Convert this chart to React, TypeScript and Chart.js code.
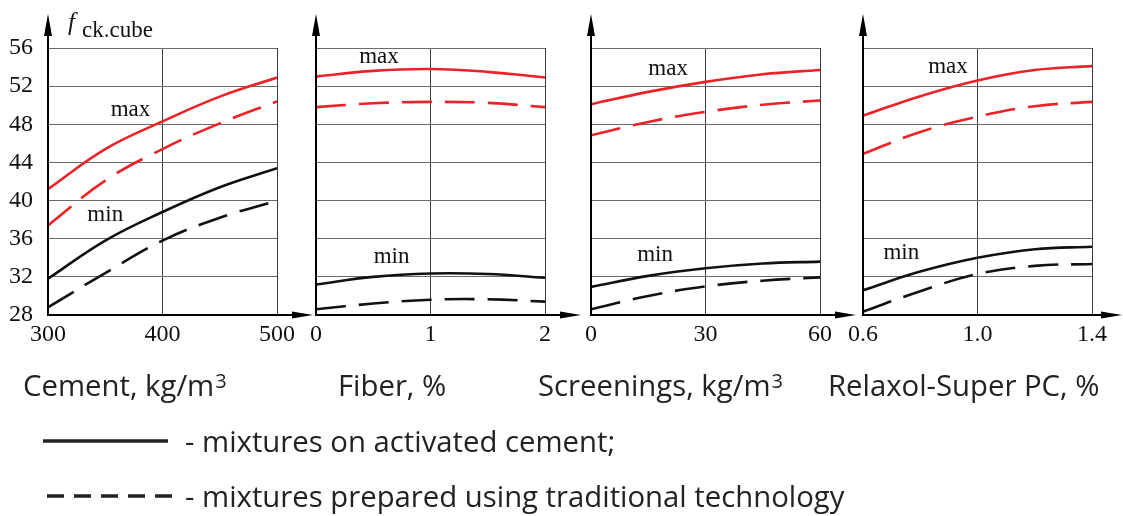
import React, { useEffect, useRef } from 'react';
import { Chart, registerables } from 'chart.js';

Chart.register(...registerables);

// ---------- data ----------
const yTicks = [28, 32, 36, 40, 44, 48, 52, 56];

// Panel 1: Cement, kg/m3
const cementX = [300, 350, 400, 450, 500];
const cementTicks = [300, 400, 500];
const cementMaxActivated = [41.2, 45.4, 48.3, 50.9, 52.9];
const cementMaxTraditional = [37.4, 42.1, 45.4, 48.1, 50.4];
const cementMinActivated = [31.8, 35.8, 38.8, 41.4, 43.4];
const cementMinTraditional = [28.8, 32.4, 35.8, 38.2, 40.0];

// Panel 2: Fiber, %
const fiberX = [0, 0.5, 1, 1.5, 2];
const fiberTicks = [0, 1, 2];
const fiberMaxActivated = [53.0, 53.6, 53.8, 53.5, 52.9];
const fiberMaxTraditional = [49.8, 50.2, 50.35, 50.25, 49.8];
const fiberMinActivated = [31.2, 32.0, 32.35, 32.3, 31.9];
const fiberMinTraditional = [28.6, 29.2, 29.6, 29.65, 29.4];

// Panel 3: Screenings, kg/m3
const screeningsX = [0, 15, 30, 45, 60];
const screeningsTicks = [0, 30, 60];
const screeningsMaxActivated = [50.1, 51.4, 52.45, 53.25, 53.7];
const screeningsMaxTraditional = [46.85, 48.25, 49.3, 50.05, 50.5];
const screeningsMinActivated = [30.95, 32.1, 32.9, 33.4, 33.6];
const screeningsMinTraditional = [28.6, 30.0, 31.0, 31.6, 31.95];

// Panel 4: Relaxol-Super PC, %
const relaxolX = [0.6, 0.8, 1.0, 1.2, 1.4];
const relaxolTicks = [0.6, 1.0, 1.4];
const relaxolMaxActivated = [48.9, 50.95, 52.6, 53.7, 54.1];
const relaxolMaxTraditional = [44.9, 47.2, 48.8, 49.9, 50.35];
const relaxolMinActivated = [30.6, 32.55, 34.0, 34.9, 35.15];
const relaxolMinTraditional = [28.35, 30.5, 32.3, 33.15, 33.35];

const axisTitles = ['Cement, kg/m', 'Fiber, %', 'Screenings, kg/m', 'Relaxol-Super PC, %'];
const legendLabels = ['- mixtures on activated cement;', '- mixtures prepared using traditional technology'];

// ---------- layout / style ----------
const W = 1123;
const H = 516;
const TOP = 48;
const BOTTOM = 315;
const Y_AXIS_W = 48;
const X_AXIS_H = 46;
const RED = '#ec2227';
const BLACK = '#111111';
const SERIF = '"Liberation Serif", "Times New Roman", serif';
const SANS = '"Open Sans", "Noto Sans", sans-serif';

type Note = { text: string; x: number; y: number };
type Panel = {
  xs: number[];
  series: number[][];
  ticks: number[];
  decimals: number;
  left: number;
  right: number;
  showY: boolean;
  notes: Note[];
};

const panels: Panel[] = [
  {
    xs: cementX,
    series: [cementMaxActivated, cementMaxTraditional, cementMinActivated, cementMinTraditional],
    ticks: cementTicks, decimals: 0, left: 48, right: 277, showY: true,
    notes: [{ text: 'max', x: 372, y: 48.9 }, { text: 'min', x: 350, y: 37.9 }],
  },
  {
    xs: fiberX,
    series: [fiberMaxActivated, fiberMaxTraditional, fiberMinActivated, fiberMinTraditional],
    ticks: fiberTicks, decimals: 0, left: 316, right: 545, showY: false,
    notes: [{ text: 'max', x: 0.55, y: 54.4 }, { text: 'min', x: 0.66, y: 33.5 }],
  },
  {
    xs: screeningsX,
    series: [screeningsMaxActivated, screeningsMaxTraditional, screeningsMinActivated, screeningsMinTraditional],
    ticks: screeningsTicks, decimals: 0, left: 591, right: 820, showY: false,
    notes: [{ text: 'max', x: 20.2, y: 53.15 }, { text: 'min', x: 16.8, y: 33.7 }],
  },
  {
    xs: relaxolX,
    series: [relaxolMaxActivated, relaxolMaxTraditional, relaxolMinActivated, relaxolMinTraditional],
    ticks: relaxolTicks, decimals: 1, left: 863, right: 1092, showY: false,
    notes: [{ text: 'max', x: 0.897, y: 53.4 }, { text: 'min', x: 0.734, y: 33.9 }],
  },
];

const seriesStyles = [
  { color: RED, dash: [] as number[] },
  { color: RED, dash: [30, 13] },
  { color: BLACK, dash: [] as number[] },
  { color: BLACK, dash: [30, 13] },
];

function PanelChart({ panel, index }: { panel: Panel; index: number }) {
  const ref = useRef<HTMLCanvasElement | null>(null);

  useEffect(() => {
    if (!ref.current) return;
    const p = panel;
    const overlay = {
      id: 'overlay' + index,
      afterDraw(chart: any) {
        const { ctx, chartArea: a, scales } = chart;
        ctx.save();
        ctx.strokeStyle = '#000';
        ctx.fillStyle = '#000';
        ctx.lineWidth = 2;
        ctx.setLineDash([]);
        // y axis with arrow
        ctx.beginPath();
        ctx.moveTo(a.left, a.bottom + 1);
        ctx.lineTo(a.left, 30);
        ctx.stroke();
        ctx.beginPath();
        ctx.moveTo(a.left, 14);
        ctx.lineTo(a.left - 4, 36);
        ctx.lineTo(a.left + 4, 36);
        ctx.closePath();
        ctx.fill();
        // x axis with arrow
        const tip = Math.min(a.right + 36, W - 1);
        ctx.beginPath();
        ctx.moveTo(a.left - 1, a.bottom);
        ctx.lineTo(tip - 12, a.bottom);
        ctx.stroke();
        ctx.beginPath();
        ctx.moveTo(tip, a.bottom);
        ctx.lineTo(tip - 21, a.bottom - 3.5);
        ctx.lineTo(tip - 21, a.bottom + 3.5);
        ctx.closePath();
        ctx.fill();
        // max / min notes
        ctx.font = `23px ${SERIF}`;
        ctx.textAlign = 'center';
        ctx.textBaseline = 'alphabetic';
        ctx.fillStyle = '#111';
        for (const n of p.notes) {
          ctx.fillText(n.text, scales.x.getPixelForValue(n.x), scales.y.getPixelForValue(n.y));
        }
        if (index === 0) {
          // y axis title f_ck.cube
          ctx.textAlign = 'left';
          ctx.font = `italic 25px ${SERIF}`;
          ctx.fillText('f', a.left + 20, 30);
          ctx.font = `23px ${SERIF}`;
          ctx.fillText('ck.cube', a.left + 34, 37);
          // legend samples
          ctx.strokeStyle = '#222';
          ctx.lineWidth = 3.5;
          ctx.beginPath();
          ctx.moveTo(43, 441);
          ctx.lineTo(168, 441);
          ctx.stroke();
          ctx.setLineDash([17, 10]);
          ctx.beginPath();
          ctx.moveTo(47, 496);
          ctx.lineTo(174, 496);
          ctx.stroke();
        }
        ctx.restore();
      },
    };

    const chart = new Chart(ref.current, {
      type: 'line',
      data: {
        datasets: p.series.map((vals, i) => ({
          data: p.xs.map((x, j) => ({ x, y: vals[j] })),
          borderColor: seriesStyles[i].color,
          borderDash: seriesStyles[i].dash,
          borderWidth: 2.6,
          pointRadius: 0,
          tension: 0.4,
          fill: false,
        })),
      },
      options: {
        animation: false,
        responsive: false,
        events: [],
        layout: {
          padding: {
            left: p.left - Y_AXIS_W,
            right: W - p.right,
            top: TOP,
            bottom: H - BOTTOM - X_AXIS_H,
          },
        },
        plugins: { legend: { display: false }, tooltip: { enabled: false } },
        scales: {
          x: {
            type: 'linear',
            min: p.ticks[0],
            max: p.ticks[p.ticks.length - 1],
            afterFit: (s: any) => { s.height = X_AXIS_H; s.paddingLeft = 0; s.paddingRight = 0; },
            afterBuildTicks: (s: any) => { s.ticks = p.ticks.map((v) => ({ value: v })); },
            grid: { color: '#3a3a3a', lineWidth: 1, drawTicks: false },
            border: { display: false },
            ticks: {
              padding: 5,
              autoSkip: false,
              maxRotation: 0,
              color: '#111',
              font: { family: SERIF, size: 24 },
              callback: (v: any) => Number(v).toFixed(p.decimals),
            },
          },
          y: {
            type: 'linear',
            min: yTicks[0],
            max: yTicks[yTicks.length - 1],
            afterFit: (s: any) => { s.width = Y_AXIS_W; s.paddingTop = 0; s.paddingBottom = 0; },
            afterBuildTicks: (s: any) => { s.ticks = yTicks.map((v) => ({ value: v })); },
            grid: { color: '#6a6a6a', lineWidth: 1, drawTicks: false },
            border: { display: false },
            ticks: {
              display: p.showY,
              autoSkip: false,
              padding: 15,
              color: '#111',
              font: { family: SERIF, size: 24 },
            },
          },
        },
      },
      plugins: [overlay],
    } as any);
    return () => chart.destroy();
  }, [panel, index]);

  return (
    <canvas
      ref={ref}
      width={W}
      height={H}
      style={{ position: 'absolute', left: 0, top: 0, width: W, height: H }}
    />
  );
}

const titleLefts = [23, 338, 538, 828];

export default function App() {
  const textStyle: React.CSSProperties = {
    position: 'absolute',
    fontFamily: SANS,
    fontSize: 29.3,
    lineHeight: '29px',
    color: '#222',
    whiteSpace: 'nowrap',
  };
  return (
    <div style={{ position: 'absolute', left: 0, top: 0, width: W, height: H, background: '#fff', overflow: 'hidden' }}>
      {panels.map((p, i) => (
        <PanelChart key={i} panel={p} index={i} />
      ))}
      {axisTitles.map((t, i) => (
        <div key={t} style={{ ...textStyle, left: titleLefts[i], top: 371 }}>
          {t}
          {i === 0 || i === 2 ? (
            <span style={{ fontSize: 20, position: 'relative', top: -8, marginLeft: 1 }}>3</span>
          ) : null}
        </div>
      ))}
      <div style={{ ...textStyle, left: 185, top: 427 }}>{legendLabels[0]}</div>
      <div style={{ ...textStyle, left: 185, top: 482 }}>{legendLabels[1]}</div>
    </div>
  );
}
